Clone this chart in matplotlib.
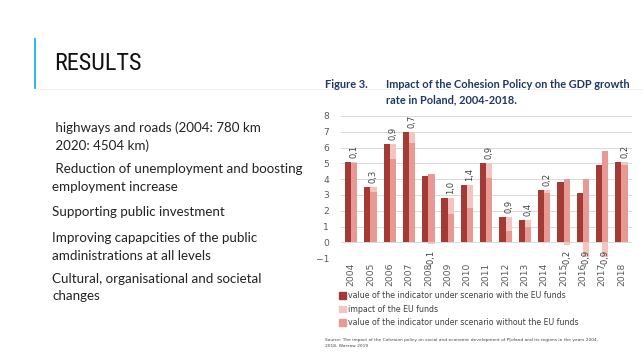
import numpy as np
import matplotlib.pyplot as plt
from matplotlib.patches import Patch

years = ["2004", "2005", "2006", "2007", "2008", "2009", "2010", "2011",
         "2012", "2013", "2014", "2015", "2016", "2017", "2018"]
with_funds = [5.1, 3.5, 6.2, 7.0, 4.2, 2.8, 3.6, 5.0, 1.6, 1.4, 3.3, 3.8, 3.1, 4.9, 5.1]
impact = [0.1, 0.3, 0.9, 0.7, -0.1, 1.0, 1.4, 0.9, 0.9, 0.4, 0.2, -0.2, -0.9, -0.9, 0.2]
without_funds = [5.0, 3.2, 5.3, 6.3, 4.3, 1.8, 2.2, 4.1, 0.7, 1.0, 3.1, 4.0, 4.0, 5.8, 4.9]

# bullet text and its top edge in pixels from the top of the slide
bullets = [
    (" highways and roads (2004: 780 km\n 2020: 4504 km)", 121),
    (" Reduction of unemployment and boosting\nemployment increase", 163),
    ("Supporting public investment", 206),
    ("Improving capapcities of the public\namdinistrations at all levels", 232),
    ("Cultural, organisational and societal\nchanges", 273),
]

c_with = "#a33a36"
c_impact = "#f4c4c1"
c_without = "#e99994"
navy = "#1f3864"

fig = plt.figure(figsize=(6.43, 3.58), dpi=100)
fig.patch.set_facecolor("white")

# slide header
fig.add_artist(plt.Line2D([0.054, 0.054], [1 - 39 / 358, 1 - 88 / 358],
                          color="#1ab0ea", lw=1.3))
fig.add_artist(plt.Line2D([0.054, 1.0], [1 - 89 / 358, 1 - 89 / 358],
                          color="#f0f0f0", lw=0.6))
fig.text(0.084, 1 - 64 / 358, "RESULTS", fontsize=17.5, color="#111111",
         family=["Roboto Condensed", "Roboto"], fontstretch="condensed",
         va="center", ha="left")

for txt, top in bullets:
    fig.text(0.081, 1 - top / 358, txt, fontsize=9.6, color="#222222",
             family="Lato", va="top", ha="left", linespacing=1.55)

# chart title
fig.text(0.505, 1 - 84 / 358, "Figure 3.", fontsize=7.9, fontweight="bold",
         color=navy, family="Lato", va="center")
fig.text(0.600, 1 - 84 / 358, "Impact of the Cohesion Policy on the GDP growth",
         fontsize=7.9, fontweight="bold", color=navy, family="Lato", va="center")
fig.text(0.600, 1 - 100 / 358, "rate in Poland, 2004-2018.",
         fontsize=7.9, fontweight="bold", color=navy, family="Lato", va="center")

ax = fig.add_axes([0.531, 0.279, 0.452, 0.397])
x = np.arange(len(years))
w = 0.32
ax.bar(x - w / 2, with_funds, w, color=c_with, zorder=3)
ax.bar(x + w / 2, without_funds, w, color=c_without, zorder=3)
imp = np.array(impact)
bottoms = np.where(imp > 0, without_funds, 0)
ax.bar(x + w / 2, imp, w, bottom=bottoms, color=c_impact, zorder=3)

for i, v in enumerate(impact):
    lab = f"{v:.1f}".replace(".", ",")
    if v > 0:
        top = max(with_funds[i], without_funds[i])
        ax.annotate(lab, (x[i] + w / 2, top), xytext=(0, 3), textcoords="offset points",
                    rotation=90, ha="center", va="bottom", fontsize=6, color="#404040")
    else:
        ax.annotate(lab, (x[i] + w / 2, -0.1), xytext=(0, -4), textcoords="offset points",
                    rotation=90, ha="center", va="top", fontsize=6, color="#404040")

ax.set_ylim(-1, 8)
ax.set_xlim(-0.5, len(years) - 0.45)
ax.set_yticks(range(-1, 9))
ax.set_xticks(x)
ax.set_xticklabels(years, rotation=90)
ax.tick_params(axis="both", length=0, labelsize=6.6, labelcolor="#595959")
ax.tick_params(axis="y", pad=9)
ax.tick_params(axis="x", pad=3)
ax.grid(axis="y", color="#d9d9d9", lw=0.7, zorder=0)
for s in ax.spines.values():
    s.set_visible(False)

handles = [Patch(color=c_with), Patch(color=c_impact), Patch(color=c_without)]
labels = ["value of the indicator under scenario with the EU funds",
          "impact of the EU funds",
          "value of the indicator under scenario without the EU funds"]
fig.legend(handles, labels, loc="upper left", bbox_to_anchor=(0.527, 1 - 291 / 358),
           frameon=False, fontsize=5.7, labelcolor="#404040", handlelength=0.9,
           handleheight=0.9, handletextpad=0.3, labelspacing=0.58, borderpad=0,
           borderaxespad=0)

fig.text(0.506, 1 - 343 / 358,
         "Source: The impact of the Cohesion policy on social and economic development of P[oland and its regions in the years 2004-\n2018, Warsaw 2019",
         fontsize=3.2, color="#444444", va="center", linespacing=1.5)

fig.savefig("out.png", dpi=100)
